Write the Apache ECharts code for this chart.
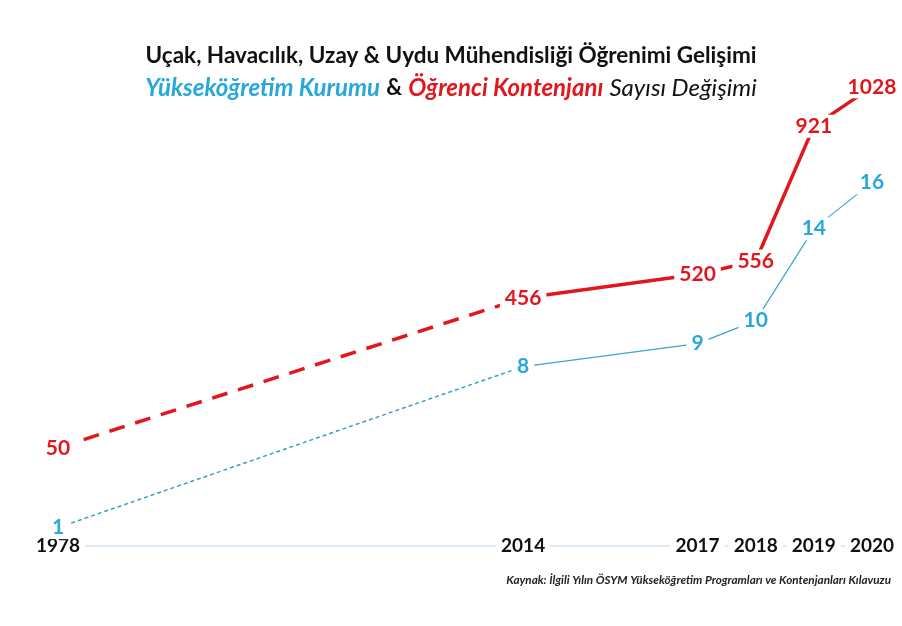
<!DOCTYPE html>
<html>
<head>
<meta charset="utf-8">
<script src="https://cdn.jsdelivr.net/npm/echarts@6/dist/echarts.min.js"></script>
<style>
  html, body { margin: 0; padding: 0; background: #fff; }
  #chart { width: 902px; height: 626px; }
</style>
</head>
<body>
<div id="chart"></div>
<script>
var years = [1978, 2014, 2017, 2018, 2019, 2020];
var students = [50, 456, 520, 556, 921, 1028];
var institutions = [1, 8, 9, 10, 14, 16];
var yearTicks = [1978, 2014, 2017, 2018, 2019, 2020];

var RED = '#e2161d';
var BLUE = '#27a7dc';

function pairs(vals, from, to) {
  var out = [];
  for (var i = from; i <= to; i++) {
    out.push([years[i], vals[i]]);
  }
  return out;
}

var valueLabel = function (color) {
  return {
    show: true,
    position: 'inside',
    formatter: function (p) { return p.value[1]; },
    color: color,
    fontFamily: 'Lato',
    fontWeight: 'bold',
    fontSize: 21,
    backgroundColor: '#fff',
    padding: [1, 5]
  };
};

var last = years.length - 1;

// the dashed/dotted part only labels its first point, the solid part labels the rest
var redDashed = pairs(students, 0, 1).map(function (d, i) {
  return i === 0 ? { value: d } : { value: d, label: { show: false } };
});
var blueDotted = pairs(institutions, 0, 1).map(function (d, i) {
  return i === 0 ? { value: d } : { value: d, label: { show: false } };
});

var chart = echarts.init(document.getElementById('chart'));

var option = {
  backgroundColor: '#fff',
  animation: false,
  title: [
    {
      text: 'Uçak, Havacılık, Uzay & Uydu Mühendisliği Öğrenimi Gelişimi',
      subtext: '{b|Yükseköğretim Kurumu} {k|&} {r|Öğrenci Kontenjanı} {i|Sayısı Değişimi}',
      left: 'center',
      top: 39,
      itemGap: 9,
      textStyle: {
        color: '#111',
        fontFamily: 'Lato',
        fontWeight: 'bold',
        fontSize: 22.5
      },
      subtextStyle: {
        fontFamily: 'Lato',
        fontSize: 24,
        rich: {
          b: { color: BLUE, fontStyle: 'italic', fontWeight: 'bold', fontFamily: 'Lato', fontSize: 24 },
          k: { color: '#111', fontWeight: 'bold', fontFamily: 'Lato', fontSize: 22 },
          r: { color: RED, fontStyle: 'italic', fontWeight: 'bold', fontFamily: 'Lato', fontSize: 24 },
          i: { color: '#111', fontStyle: 'italic', fontWeight: 'normal', fontFamily: 'Lato', fontSize: 24 }
        }
      }
    },
    {
      text: 'Kaynak: İlgili Yılın ÖSYM Yükseköğretim Programları ve Kontenjanları Kılavuzu',
      right: 6,
      top: 569,
      textStyle: {
        color: '#222',
        fontFamily: 'Lato',
        fontStyle: 'italic',
        fontWeight: 'bold',
        fontSize: 11.7
      }
    }
  ],
  grid: {
    left: 58,
    right: 30,
    top: 78,
    bottom: 80
  },
  xAxis: [
    {
      type: 'value',
      min: 1978,
      max: 2020,
      z: 2,
      breaks: [{ start: 1979, end: 2013, gap: 6 }],
      breakArea: { show: false, expandOnClick: false },
      axisLine: { show: false },
      axisTick: { show: false },
      splitLine: { show: false },
      axisLabel: {
        customValues: yearTicks,
        showMinLabel: true,
        showMaxLabel: true,
        hideOverlap: false,
        margin: 0,
        verticalAlign: 'middle',
        color: '#111',
        fontFamily: 'Lato',
        fontWeight: 'bold',
        fontSize: 19,
        backgroundColor: '#fff',
        padding: [2, 5],
        formatter: function (v) { return String(v); }
      }
    },
    {
      // plain axis line under the year labels
      type: 'value',
      position: 'bottom',
      min: 0,
      max: 1,
      z: 1,
      axisLine: { show: true, onZero: false, lineStyle: { color: '#d3e5f2', width: 1.5 } },
      axisTick: { show: false },
      axisLabel: { show: false },
      splitLine: { show: false }
    }
  ],
  yAxis: [
    { type: 'value', min: -216, max: 1052, show: false },
    { type: 'value', min: 0.2, max: 20.55, show: false }
  ],
  series: [
    {
      name: 'Öğrenci Kontenjanı (tahmini)',
      type: 'line',
      yAxisIndex: 0,
      symbol: 'circle',
      symbolSize: 1,
      itemStyle: { color: 'rgba(0,0,0,0)' },
      data: redDashed,
      lineStyle: { color: RED, width: 3.5, type: [16, 11] },
      label: valueLabel(RED),
      z: 3
    },
    {
      name: 'Öğrenci Kontenjanı',
      type: 'line',
      yAxisIndex: 0,
      symbol: 'circle',
      symbolSize: 1,
      itemStyle: { color: 'rgba(0,0,0,0)' },
      data: pairs(students, 1, last),
      lineStyle: { color: RED, width: 3.5 },
      label: valueLabel(RED),
      z: 3
    },
    {
      name: 'Yükseköğretim Kurumu (tahmini)',
      type: 'line',
      yAxisIndex: 1,
      symbol: 'circle',
      symbolSize: 1,
      itemStyle: { color: 'rgba(0,0,0,0)' },
      data: blueDotted,
      lineStyle: { color: '#3c9fc4', width: 1.5, type: [4, 3] },
      label: valueLabel(BLUE),
      z: 2
    },
    {
      name: 'Yükseköğretim Kurumu',
      type: 'line',
      yAxisIndex: 1,
      symbol: 'circle',
      symbolSize: 1,
      itemStyle: { color: 'rgba(0,0,0,0)' },
      data: pairs(institutions, 1, last),
      lineStyle: { color: '#3aa5cf', width: 1.2 },
      label: valueLabel(BLUE),
      z: 2
    }
  ]
};

chart.setOption(option);
</script>
</body>
</html>
